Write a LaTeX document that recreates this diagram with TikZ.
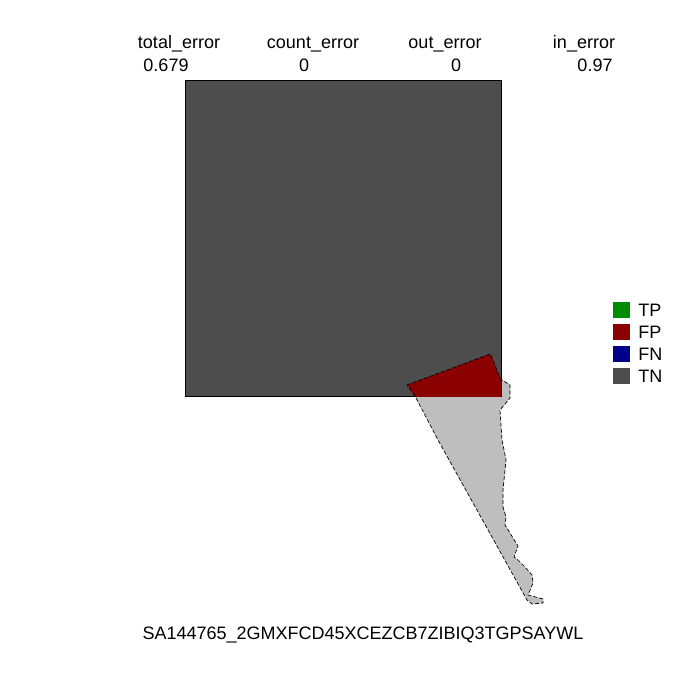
\documentclass[tikz,border=0pt]{standalone}
\usepackage{fontspec}
\setmainfont{Liberation Sans}
\usepackage{xcolor}
\usetikzlibrary{positioning}
\definecolor{ctp}{RGB}{0,139,0}
\definecolor{cfp}{RGB}{139,0,0}
\definecolor{cfn}{RGB}{0,0,139}
\definecolor{ctn}{RGB}{77,77,77}
\definecolor{ctruth}{RGB}{190,190,190}
\begin{document}
\begin{tikzpicture}[
  x=1pt, y=-1pt, font=\fontsize{18}{21}\selectfont,
  head/.style={inner sep=0pt, anchor=base},
  key/.style={minimum width=17pt, minimum height=16pt, inner sep=0pt},
  keylab/.style={inner sep=0pt, anchor=west}
]
\useasboundingbox (0,0) rectangle (700,700);
% ground truth outline
\def\truthpath{(407,385) -- (490,354) -- (493,360) -- (498,373) -- (502,380) -- (510,385)
  -- (510,398) -- (500,410) -- (502,440) -- (506,460) -- (503,490) -- (503,507)
  -- (506,517) -- (505,525) -- (518,546) -- (514,557) -- (518,560) -- (525,567)
  -- (532,575) -- (533,583) -- (528,595) -- (543,599) -- (543,603) -- (532,604)
  -- (527,600) -- (438,440) -- (415,396) -- cycle}
\fill[ctruth] \truthpath;
% prediction square
\node[draw=black, fill=ctn, minimum width=316pt, minimum height=316pt, inner sep=0pt,
  line width=0.6pt] (pred) at (343,238) {};
\begin{scope}
  \clip (185,80) rectangle (501,396);
  \fill[cfp] \truthpath;
\end{scope}
\draw[line width=0.7pt, dash pattern=on 4pt off 2pt] \truthpath;
% scores
\node[head] (h1) at (179,49) {total\_error};
\node[head] (h2) at (313,49) {count\_error};
\node[head] (h3) at (445,49) {out\_error};
\node[head] (h4) at (584,49) {in\_error};
\node[head] (v1) at (166,72) {0.679};
\node[head] (v2) at (304,72) {0};
\node[head] (v3) at (456,72) {0};
\node[head] (v4) at (595,72) {0.97};
% legend
\node[key, fill=ctp] (ktp) at (621.5,310) {};
\node[key, fill=cfp, below=5.7pt of ktp] (kfp) {};
\node[key, fill=cfn, below=5.7pt of kfp] (kfn) {};
\node[key, fill=ctn, below=5.7pt of kfn] (ktn) {};
\node[keylab, right=8pt of ktp] (ltp) {TP};
\node[keylab, right=8pt of kfp] (lfp) {FP};
\node[keylab, right=8pt of kfn] (lfn) {FN};
\node[keylab, right=8pt of ktn] (ltn) {TN};
% sample id
\node[head] (sid) at (363,639) {SA144765\_2GMXFCD45XCEZCB7ZIBIQ3TGPSAYWL};
\end{tikzpicture}
\end{document}
